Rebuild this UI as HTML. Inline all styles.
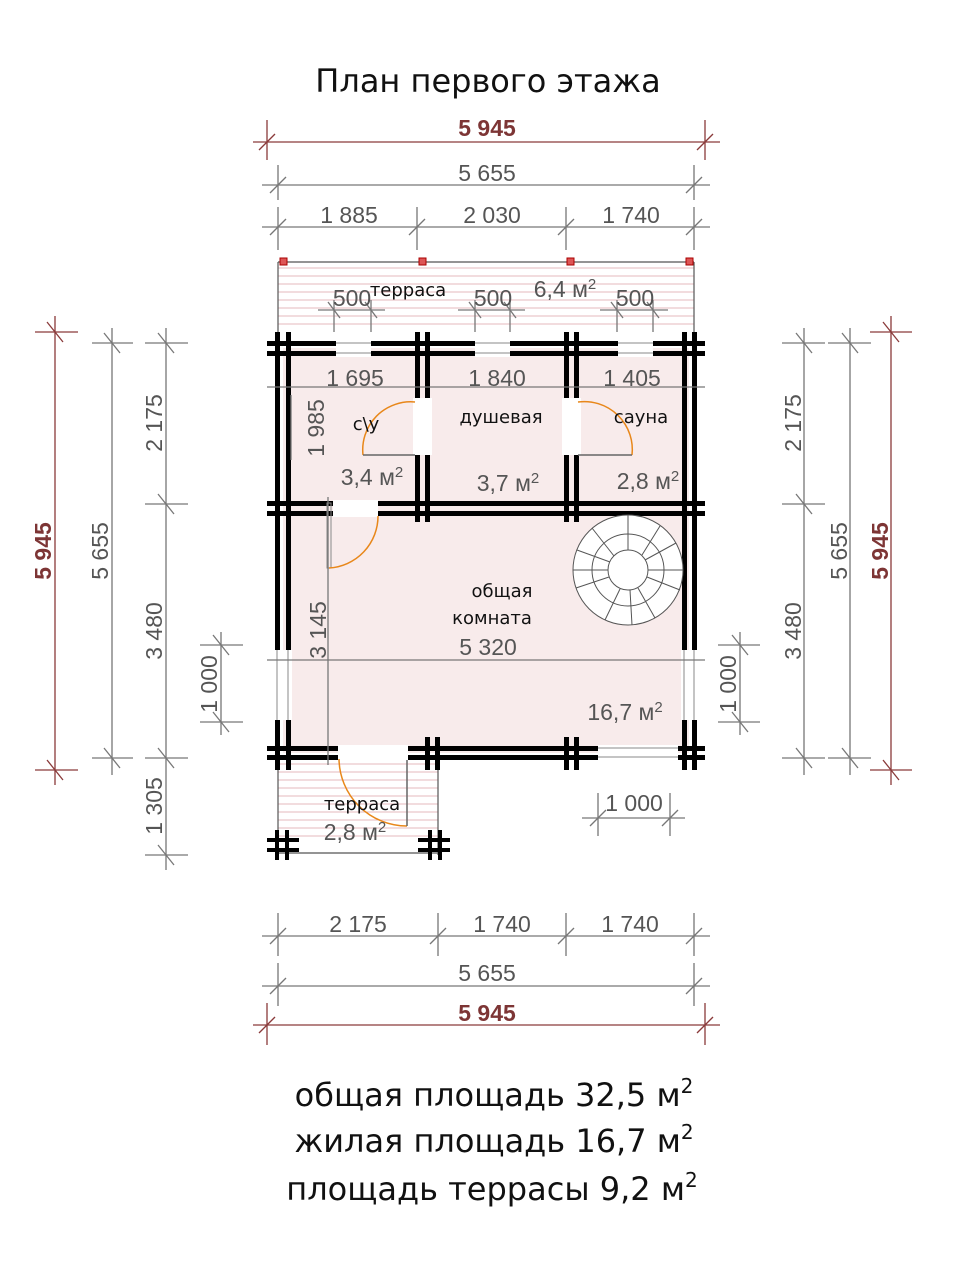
<!DOCTYPE html>
<html><head><meta charset="utf-8"><style>
html,body{margin:0;padding:0;background:#fff;}
svg{display:block;}
.d{stroke:#777;stroke-width:1.3;fill:none;}
.r{stroke:#8a3a3a;stroke-width:1.3;fill:none;}
.n{font-family:"Liberation Sans",sans-serif;font-size:23px;fill:#555;}
.rn{font-family:"Liberation Sans",sans-serif;font-size:23px;font-weight:bold;fill:#7d3535;}
.l{font-family:"DejaVu Sans",sans-serif;font-size:18px;fill:#111;}
.w{fill:#000;}
</style></head><body>
<svg width="960" height="1280" viewBox="0 0 960 1280" xmlns="http://www.w3.org/2000/svg">
<text x="488" y="92" text-anchor="middle" font-family="DejaVu Sans, sans-serif" font-size="32" fill="#111">План первого этажа</text>

<rect x="283" y="348" width="406" height="405" fill="#f8ebeb"/>
<g fill="#fff"><rect x="278" y="262" width="416" height="70"/></g>
<g stroke="#e6b8bc" stroke-width="1">
<line x1="278" y1="268" x2="694" y2="268"/><line x1="278" y1="276" x2="694" y2="276"/><line x1="278" y1="284" x2="694" y2="284"/><line x1="278" y1="292" x2="694" y2="292"/><line x1="278" y1="300" x2="694" y2="300"/><line x1="278" y1="308" x2="694" y2="308"/><line x1="278" y1="316" x2="694" y2="316"/><line x1="278" y1="324" x2="694" y2="324"/>
<line x1="278" y1="764" x2="438" y2="764"/><line x1="278" y1="772" x2="438" y2="772"/><line x1="278" y1="780" x2="438" y2="780"/><line x1="278" y1="788" x2="438" y2="788"/><line x1="278" y1="796" x2="438" y2="796"/><line x1="278" y1="804" x2="438" y2="804"/><line x1="278" y1="812" x2="438" y2="812"/><line x1="278" y1="820" x2="438" y2="820"/><line x1="278" y1="828" x2="438" y2="828"/><line x1="278" y1="836" x2="438" y2="836"/>
</g>
<g stroke="#555" stroke-width="1.2" fill="none">
<line x1="278" y1="262" x2="694" y2="262"/><line x1="278" y1="262" x2="278" y2="332"/><line x1="694" y1="262" x2="694" y2="332"/>
<line x1="278" y1="757" x2="278" y2="855"/><line x1="438" y1="757" x2="438" y2="855"/><line x1="278" y1="853" x2="438" y2="853"/>
</g>
<g fill="#d55" stroke="#a00" stroke-width="1"><rect x="280" y="258" width="7" height="7"/><rect x="419" y="258" width="7" height="7"/><rect x="567" y="258" width="7" height="7"/><rect x="686" y="258" width="7" height="7"/></g>

<g class="w">
<rect x="267" y="341" width="438" height="5"/><rect x="267" y="351" width="438" height="5"/>
<rect x="267" y="501" width="438" height="5"/><rect x="267" y="511" width="438" height="5"/>
<rect x="267" y="746" width="438" height="5"/><rect x="267" y="755" width="438" height="5"/>
<rect x="275" y="332" width="5" height="438"/><rect x="286" y="332" width="5" height="438"/>
<rect x="682" y="332" width="5" height="438"/><rect x="692" y="332" width="5" height="438"/>
<rect x="415" y="332" width="5" height="190"/><rect x="425" y="332" width="5" height="190"/>
<rect x="564" y="332" width="5" height="190"/><rect x="574" y="332" width="5" height="190"/>
<rect x="425" y="737" width="5" height="33"/><rect x="435" y="737" width="5" height="33"/>
<rect x="564" y="737" width="5" height="33"/><rect x="574" y="737" width="5" height="33"/>
<rect x="267" y="838" width="32" height="4"/><rect x="267" y="848" width="32" height="4"/><rect x="275" y="830" width="4" height="30"/><rect x="285" y="830" width="4" height="30"/>
<rect x="418" y="838" width="32" height="4"/><rect x="418" y="848" width="32" height="4"/><rect x="428" y="830" width="4" height="30"/><rect x="438" y="830" width="4" height="30"/>
</g>
<g fill="#fff">
<rect x="336" y="340" width="35" height="17"/><rect x="475" y="340" width="35" height="17"/><rect x="618" y="340" width="35" height="17"/>
<rect x="413" y="398" width="19" height="57"/><rect x="562" y="398" width="19" height="57"/>
<rect x="333" y="500" width="45" height="17"/>
<rect x="338" y="745" width="70" height="17"/>
<rect x="598" y="745" width="80" height="17"/>
<rect x="274" y="650" width="18" height="70"/><rect x="681" y="650" width="18" height="70"/>
</g>
<g stroke="#888" stroke-width="1" fill="none">
<line x1="336" y1="343" x2="371" y2="343"/><line x1="336" y1="353" x2="371" y2="353"/>
<line x1="475" y1="343" x2="510" y2="343"/><line x1="475" y1="353" x2="510" y2="353"/>
<line x1="618" y1="343" x2="653" y2="343"/><line x1="618" y1="353" x2="653" y2="353"/>
<line x1="598" y1="748" x2="678" y2="748"/><line x1="598" y1="757" x2="678" y2="757"/>
<line x1="277" y1="650" x2="277" y2="720"/><line x1="288" y1="650" x2="288" y2="720"/>
<line x1="684" y1="650" x2="684" y2="720"/><line x1="694" y1="650" x2="694" y2="720"/>
<rect x="327" y="503" width="4" height="65"/>
</g>
<g stroke="#e8871a" stroke-width="1.5" fill="none">
<path d="M415 402 A48 48 0 0 0 363 455"/><line x1="363" y1="455" x2="415" y2="455" stroke="#666"/>
<path d="M578 402 A48 48 0 0 1 632 455"/><line x1="578" y1="455" x2="632" y2="455" stroke="#666"/>
<path d="M378 516 A52 52 0 0 1 329 568"/>
<path d="M339 759 A68 68 0 0 0 407 826"/><line x1="407" y1="760" x2="407" y2="826" stroke="#666"/>
</g>
<g stroke="#555" stroke-width="1" fill="#fff">
<circle cx="628" cy="570" r="55"/><circle cx="628" cy="570" r="36" fill="none"/><circle cx="628" cy="570" r="20"/>
</g>
<g stroke="#555" stroke-width="1">
<line x1="628" y1="550" x2="628" y2="515"/><line x1="645" y1="560" x2="676" y2="543"/><line x1="647" y1="577" x2="680" y2="590"/><line x1="638" y1="588" x2="655" y2="618"/><line x1="620" y1="589" x2="605" y2="620"/><line x1="609" y1="577" x2="576" y2="588"/><line x1="610" y1="562" x2="577" y2="550"/><line x1="614" y1="556" x2="592" y2="528"/><line x1="642" y1="555" x2="660" y2="526"/><line x1="648" y1="570" x2="683" y2="570"/><line x1="630" y1="590" x2="632" y2="625"/><line x1="608" y1="570" x2="573" y2="570"/>
</g>

<text x="366" y="430" text-anchor="middle" class="l">с\у</text>
<text x="501" y="423" text-anchor="middle" class="l">душевая</text>
<text x="641" y="423" text-anchor="middle" class="l">сауна</text>
<text x="502" y="597" text-anchor="middle" class="l">общая</text>
<text x="492" y="624" text-anchor="middle" class="l">комната</text>
<text x="408" y="296" text-anchor="middle" class="l">терраса</text>
<text x="362" y="810" text-anchor="middle" class="l">терраса</text>
<text x="372" y="485" text-anchor="middle" class="n">3,4 м<tspan dy="-8" font-size="15">2</tspan></text>
<text x="508" y="491" text-anchor="middle" class="n">3,7 м<tspan dy="-8" font-size="15">2</tspan></text>
<text x="648" y="489" text-anchor="middle" class="n">2,8 м<tspan dy="-8" font-size="15">2</tspan></text>
<text x="625" y="720" text-anchor="middle" class="n">16,7 м<tspan dy="-8" font-size="15">2</tspan></text>
<text x="355" y="840" text-anchor="middle" class="n">2,8 м<tspan dy="-8" font-size="15">2</tspan></text>
<text x="565" y="297" text-anchor="middle" class="n">6,4 м<tspan dy="-8" font-size="15">2</tspan></text>

<g class="d">
<line x1="267" y1="387" x2="705" y2="387"/>
<line x1="267" y1="660" x2="705" y2="660"/>
<line x1="328" y1="497" x2="328" y2="765"/>
<line x1="291" y1="395" x2="291" y2="460"/>
<line x1="318" y1="310" x2="385" y2="310"/><line x1="458" y1="310" x2="525" y2="310"/><line x1="600" y1="310" x2="668" y2="310"/>
<line x1="334" y1="300" x2="334" y2="332"/><line x1="371" y1="300" x2="371" y2="332"/>
<line x1="475" y1="300" x2="475" y2="332"/><line x1="510" y1="300" x2="510" y2="332"/>
<line x1="617" y1="300" x2="617" y2="332"/><line x1="653" y1="300" x2="653" y2="332"/>
<line x1="328" y1="302" x2="340" y2="318"/><line x1="365" y1="302" x2="377" y2="318"/><line x1="469" y1="302" x2="481" y2="318"/><line x1="504" y1="302" x2="516" y2="318"/><line x1="611" y1="302" x2="623" y2="318"/><line x1="647" y1="302" x2="659" y2="318"/>
</g>
<text x="355" y="386" text-anchor="middle" class="n">1 695</text>
<text x="497" y="386" text-anchor="middle" class="n">1 840</text>
<text x="632" y="386" text-anchor="middle" class="n">1 405</text>
<text x="488" y="655" text-anchor="middle" class="n">5 320</text>
<text x="352" y="306" text-anchor="middle" class="n">500</text>
<text x="493" y="306" text-anchor="middle" class="n">500</text>
<text x="635" y="306" text-anchor="middle" class="n">500</text>
<text transform="translate(324,428) rotate(-90)" text-anchor="middle" class="n">1 985</text>
<text transform="translate(326,630) rotate(-90)" text-anchor="middle" class="n">3 145</text>

<g class="r"><line x1="253" y1="142" x2="720" y2="142"/><line x1="267" y1="120" x2="267" y2="160"/><line x1="705" y1="120" x2="705" y2="160"/><line x1="259" y1="150" x2="275" y2="134"/><line x1="697" y1="150" x2="713" y2="134"/></g>
<text x="487" y="136" text-anchor="middle" class="rn">5 945</text>
<g class="d"><line x1="262" y1="185" x2="710" y2="185"/><line x1="278" y1="165" x2="278" y2="200"/><line x1="694" y1="165" x2="694" y2="200"/><line x1="270" y1="193" x2="286" y2="177"/><line x1="686" y1="193" x2="702" y2="177"/>
<line x1="262" y1="227" x2="710" y2="227"/><line x1="278" y1="207" x2="278" y2="250"/><line x1="417" y1="207" x2="417" y2="250"/><line x1="566" y1="207" x2="566" y2="250"/><line x1="694" y1="207" x2="694" y2="250"/>
<line x1="270" y1="235" x2="286" y2="219"/><line x1="409" y1="235" x2="425" y2="219"/><line x1="558" y1="235" x2="574" y2="219"/><line x1="686" y1="235" x2="702" y2="219"/></g>
<text x="487" y="181" text-anchor="middle" class="n">5 655</text>
<text x="349" y="223" text-anchor="middle" class="n">1 885</text>
<text x="492" y="223" text-anchor="middle" class="n">2 030</text>
<text x="631" y="223" text-anchor="middle" class="n">1 740</text>

<g class="d"><line x1="262" y1="936" x2="710" y2="936"/><line x1="278" y1="913" x2="278" y2="956"/><line x1="438" y1="913" x2="438" y2="956"/><line x1="566" y1="913" x2="566" y2="956"/><line x1="694" y1="913" x2="694" y2="956"/>
<line x1="270" y1="944" x2="286" y2="928"/><line x1="430" y1="944" x2="446" y2="928"/><line x1="558" y1="944" x2="574" y2="928"/><line x1="686" y1="944" x2="702" y2="928"/>
<line x1="262" y1="986" x2="710" y2="986"/><line x1="278" y1="963" x2="278" y2="1006"/><line x1="694" y1="963" x2="694" y2="1006"/><line x1="270" y1="994" x2="286" y2="978"/><line x1="686" y1="994" x2="702" y2="978"/>
<line x1="582" y1="818" x2="685" y2="818"/><line x1="598" y1="793" x2="598" y2="836"/><line x1="670" y1="793" x2="670" y2="836"/><line x1="590" y1="826" x2="606" y2="810"/><line x1="662" y1="826" x2="678" y2="810"/></g>
<text x="358" y="932" text-anchor="middle" class="n">2 175</text>
<text x="502" y="932" text-anchor="middle" class="n">1 740</text>
<text x="630" y="932" text-anchor="middle" class="n">1 740</text>
<text x="487" y="981" text-anchor="middle" class="n">5 655</text>
<text x="634" y="811" text-anchor="middle" class="n">1 000</text>
<g class="r"><line x1="253" y1="1025" x2="720" y2="1025"/><line x1="267" y1="1003" x2="267" y2="1045"/><line x1="705" y1="1003" x2="705" y2="1045"/><line x1="259" y1="1033" x2="275" y2="1017"/><line x1="697" y1="1033" x2="713" y2="1017"/></g>
<text x="487" y="1021" text-anchor="middle" class="rn">5 945</text>

<g class="r"><line x1="55" y1="316" x2="55" y2="785"/><line x1="35" y1="332" x2="78" y2="332"/><line x1="35" y1="770" x2="78" y2="770"/><line x1="47" y1="322" x2="63" y2="342"/><line x1="47" y1="760" x2="63" y2="780"/></g>
<text transform="translate(51,551) rotate(-90)" text-anchor="middle" class="rn">5 945</text>
<g class="d"><line x1="112" y1="328" x2="112" y2="775"/><line x1="92" y1="343" x2="133" y2="343"/><line x1="92" y1="758" x2="133" y2="758"/><line x1="104" y1="333" x2="120" y2="353"/><line x1="104" y1="748" x2="120" y2="768"/>
<line x1="166" y1="328" x2="166" y2="870"/><line x1="145" y1="343" x2="188" y2="343"/><line x1="145" y1="504" x2="188" y2="504"/><line x1="145" y1="758" x2="188" y2="758"/><line x1="145" y1="855" x2="188" y2="855"/>
<line x1="158" y1="333" x2="174" y2="353"/><line x1="158" y1="494" x2="174" y2="514"/><line x1="158" y1="748" x2="174" y2="768"/><line x1="158" y1="845" x2="174" y2="865"/>
<line x1="221" y1="632" x2="221" y2="735"/><line x1="200" y1="645" x2="243" y2="645"/><line x1="200" y1="722" x2="243" y2="722"/><line x1="213" y1="635" x2="229" y2="655"/><line x1="213" y1="712" x2="229" y2="732"/></g>
<text transform="translate(108,551) rotate(-90)" text-anchor="middle" class="n">5 655</text>
<text transform="translate(162,423) rotate(-90)" text-anchor="middle" class="n">2 175</text>
<text transform="translate(162,631) rotate(-90)" text-anchor="middle" class="n">3 480</text>
<text transform="translate(162,806) rotate(-90)" text-anchor="middle" class="n">1 305</text>
<text transform="translate(217,684) rotate(-90)" text-anchor="middle" class="n">1 000</text>

<g class="r"><line x1="891" y1="316" x2="891" y2="785"/><line x1="870" y1="332" x2="912" y2="332"/><line x1="870" y1="770" x2="912" y2="770"/><line x1="883" y1="322" x2="899" y2="342"/><line x1="883" y1="760" x2="899" y2="780"/></g>
<text transform="translate(888,551) rotate(-90)" text-anchor="middle" class="rn">5 945</text>
<g class="d"><line x1="850" y1="328" x2="850" y2="775"/><line x1="828" y1="343" x2="871" y2="343"/><line x1="828" y1="758" x2="871" y2="758"/><line x1="842" y1="333" x2="858" y2="353"/><line x1="842" y1="748" x2="858" y2="768"/>
<line x1="804" y1="328" x2="804" y2="775"/><line x1="782" y1="343" x2="825" y2="343"/><line x1="782" y1="504" x2="825" y2="504"/><line x1="782" y1="758" x2="825" y2="758"/>
<line x1="796" y1="333" x2="812" y2="353"/><line x1="796" y1="494" x2="812" y2="514"/><line x1="796" y1="748" x2="812" y2="768"/>
<line x1="740" y1="632" x2="740" y2="735"/><line x1="718" y1="645" x2="760" y2="645"/><line x1="718" y1="722" x2="760" y2="722"/><line x1="732" y1="635" x2="748" y2="655"/><line x1="732" y1="712" x2="748" y2="732"/></g>
<text transform="translate(847,551) rotate(-90)" text-anchor="middle" class="n">5 655</text>
<text transform="translate(801,423) rotate(-90)" text-anchor="middle" class="n">2 175</text>
<text transform="translate(801,631) rotate(-90)" text-anchor="middle" class="n">3 480</text>
<text transform="translate(736,684) rotate(-90)" text-anchor="middle" class="n">1 000</text>

<g font-family="DejaVu Sans, sans-serif" font-size="32" fill="#111" text-anchor="middle">
<text x="494" y="1106">общая площадь 32,5 м<tspan dy="-13" font-size="20">2</tspan></text>
<text x="494" y="1152">жилая площадь 16,7 м<tspan dy="-13" font-size="20">2</tspan></text>
<text x="492" y="1200">площадь террасы 9,2 м<tspan dy="-13" font-size="20">2</tspan></text>
</g>
</svg>
</body></html>
